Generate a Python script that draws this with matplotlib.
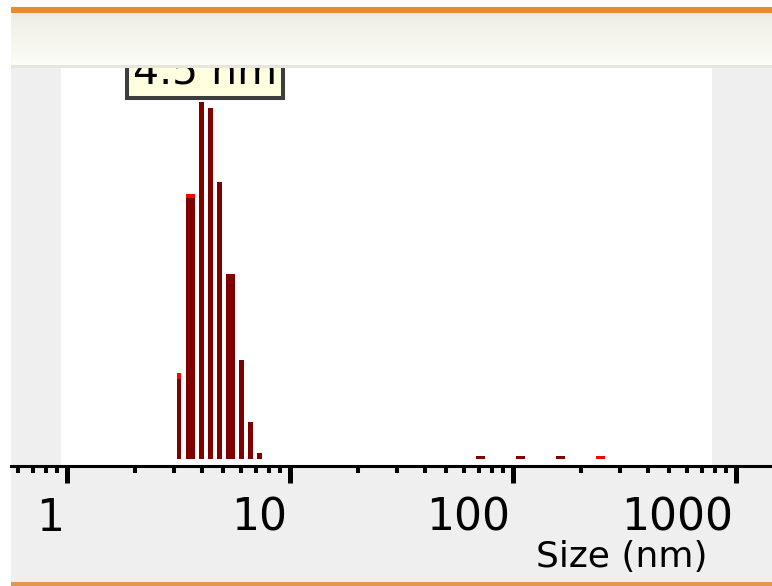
import matplotlib
matplotlib.use("Agg")
import matplotlib.pyplot as plt
import matplotlib.transforms as mtransforms
import numpy as np
from matplotlib.patches import Rectangle
from matplotlib.colors import LinearSegmentedColormap
from matplotlib.ticker import FixedLocator, LogLocator, NullFormatter

# Size distribution by intensity: bin edges (nm) and intensity (%) for two runs
bin_lo = [3.10, 3.40, 3.89, 4.27, 4.68, 5.14, 5.88, 6.45, 7.08, 67.9, 102.6, 155.1, 234.4]
bin_hi = [3.23, 3.73, 4.09, 4.49, 4.93, 5.64, 6.19, 6.79, 7.45, 74.5, 112.6, 170.2, 257.2]
run_red = [5.21, 16.06, 21.65, 21.27, 16.79, 11.21, 6.00, 2.24, 0.36, 0.18, 0.18, 0.18, 0.18]
run_dark = [4.85, 15.82, 21.65, 21.27, 16.79, 11.21, 6.00, 2.24, 0.36, 0.18, 0.18, 0.18, 0.00]

peak_size = 4.5
peak_label = "4.5 nm"
tick_values = [1, 10, 100, 1000]
tick_labels = ["1", "10", "100", "1000"]
x_label = "Size (nm)"

W, H = 772, 586
fig = plt.figure(figsize=(W / 100, H / 100), dpi=100)
fig.patch.set_facecolor("white")


def px_rect(x0, y0, x1, y1, color, z):
    """Rectangle given in pixel coordinates measured from the top-left corner."""
    r = Rectangle((x0 / W, 1 - y1 / H), (x1 - x0) / W, (y1 - y0) / H,
                  transform=fig.transFigure, facecolor=color, edgecolor="none",
                  zorder=z)
    fig.add_artist(r)
    return r


# window frame
px_rect(11, 65, 772, 582, "#efefef", -10)   # grey panel
px_rect(11, 65, 772, 67.5, "#e6e6de", 6)    # header divider
px_rect(11, 7, 772, 13, "#e88d2c", 6)       # top orange bar
px_rect(11, 582, 772, 586, "#de9850", 6)    # bottom orange line

# header gradient band
hax = fig.add_axes([11 / W, 1 - 65 / H, 761 / W, 52 / H], zorder=5)
grad_cmap = LinearSegmentedColormap.from_list("hdr", ["#edece5", "#fdfdf7"])
hax.imshow(np.linspace(0, 1, 64)[:, None], aspect="auto", cmap=grad_cmap,
           extent=(0, 1, 0, 1))
hax.axis("off")

# main plot
ax = fig.add_axes([11 / W, 1 - 466 / H, 761 / W, 399 / H], zorder=1)
ax.patch.set_visible(False)
ax.set_xscale("log")
ax.set_xlim(0.558, 1443)
ax.set_ylim(-0.424, 23.76)

# white plotting area inside the grey panel
ax.add_patch(Rectangle((50 / 761, 0), 651 / 761, 1, transform=ax.transAxes,
                       facecolor="white", edgecolor="none", zorder=0))

widths = np.subtract(bin_hi, bin_lo)
ax.bar(bin_lo, run_red, width=widths, align="edge", color="#ff0000",
       linewidth=0, zorder=2)
ax.bar(bin_lo, run_dark, width=widths, align="edge", color="#800000",
       linewidth=0, zorder=3)

for side in ("top", "left", "right"):
    ax.spines[side].set_visible(False)
ax.spines["bottom"].set_linewidth(2.2)
ax.spines["bottom"].set_color("black")
ax.yaxis.set_visible(False)

ax.xaxis.set_major_locator(FixedLocator(tick_values))
ax.xaxis.set_minor_locator(LogLocator(base=10, subs=np.arange(2, 10)))
ax.xaxis.set_minor_formatter(NullFormatter())
ax.set_xticks(tick_values)
ax.set_xticklabels(tick_labels)
ax.tick_params(axis="x", which="major", direction="out", length=12.2,
               width=3.6, pad=9.8, labelsize=31.7, colors="black")
ax.tick_params(axis="x", which="minor", direction="out", length=5,
               width=2.9, colors="black")
shift = mtransforms.ScaledTranslation(-3 / 100, 0, fig.dpi_scale_trans)
for lab in ax.get_xticklabels():
    lab.set_ha("right")
    lab.set_transform(lab.get_transform() + shift)

ax.set_xlabel(x_label, fontsize=26, color="black")
ax.xaxis.set_label_coords((621.5 - 11) / 761, (466 - 567) / 399)
ax.xaxis.label.set_va("baseline")

# peak value call-out
peak_tr = mtransforms.blended_transform_factory(ax.transData, ax.transAxes) + \
    mtransforms.ScaledTranslation(-8 / 100, 0, fig.dpi_scale_trans)
ax.text(peak_size, (466 - 83) / 399, peak_label, transform=peak_tr,
        ha="center", va="baseline", fontsize=29.5, color="black",
        bbox=dict(boxstyle="square,pad=0.15", facecolor="#ffffe0",
                  edgecolor="#3d3d3d", linewidth=2.9),
        clip_on=False, zorder=4)

fig.savefig("out.png", dpi=100)
